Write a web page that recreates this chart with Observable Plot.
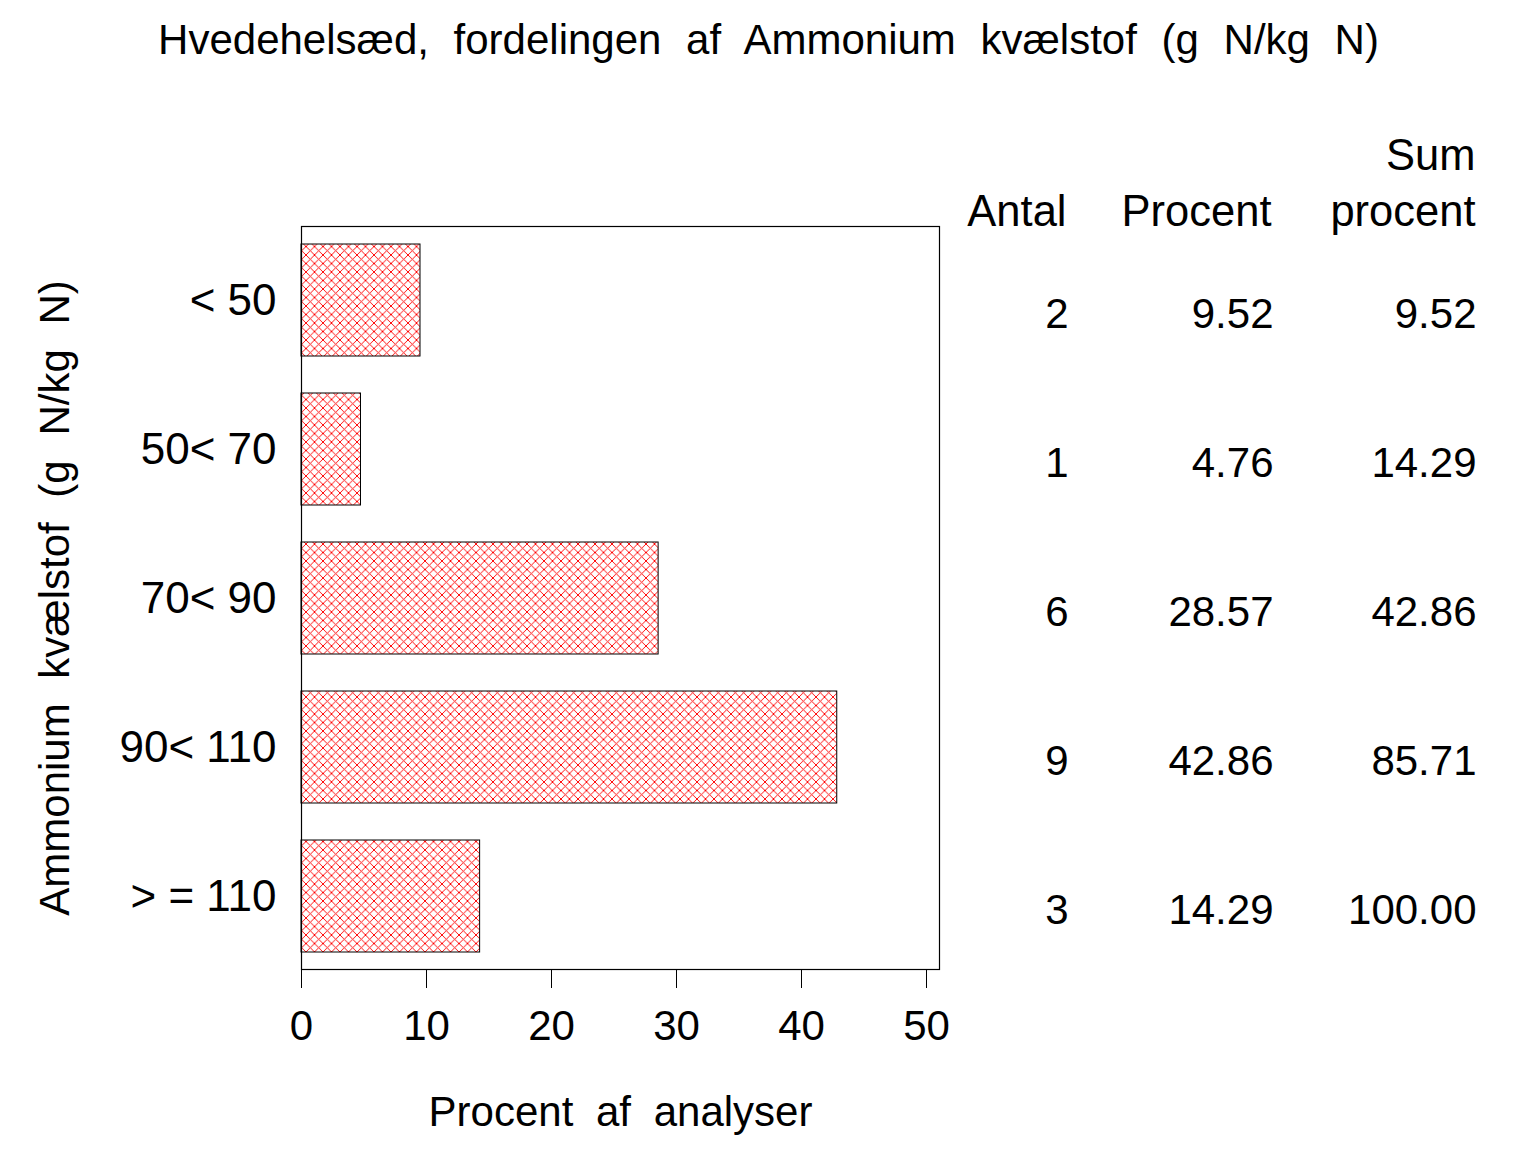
<!DOCTYPE html>
<html>
<head>
<meta charset="utf-8">
<script src="https://cdn.jsdelivr.net/npm/d3@7"></script>
<script src="https://cdn.jsdelivr.net/npm/@observablehq/plot@0.6"></script>
<style>
  html, body { margin: 0; padding: 0; background: #fff; overflow: hidden; }
</style>
</head>
<body>
<div id="chart"></div>
<script>
const categories = ["< 50", "50< 70", "70< 90", "90< 110", "> = 110"];
const antal = [2, 1, 6, 9, 3];
const procent = [9.52, 4.76, 28.57, 42.86, 14.29];
const sumProcent = [9.52, 14.29, 42.86, 85.71, 100.00];
const xTicks = [0, 10, 20, 30, 40, 50];
const titleText = "Hvedehelsæd, fordelingen af Ammonium kvælstof (g N/kg N)";
const yLabelText = "Ammonium kvælstof (g N/kg N)";
const xLabelText = "Procent af analyser";
const headers = ["Antal", "Procent", "Sum\nprocent"];

const rows = categories.map((c, i) => ({
  cat: c, antal: antal[i], procent: procent[i], sum: sumProcent[i]
}));

const font = "'Liberation Sans', Arial, Helvetica, sans-serif";

const chart = Plot.plot({
  width: 1536,
  height: 1152,
  marginLeft: 301,
  marginRight: 597,
  marginTop: 226,
  marginBottom: 183,
  style: { fontFamily: font, fontSize: "42px", color: "black", background: "white" },
  x: { domain: [0, 51.04] },
  y: { domain: categories, paddingInner: 0.25, paddingOuter: 0.118 },
  marks: [
    Plot.barX(rows, { x: "procent", y: "cat", fill: "url(#hatch)", stroke: "black", strokeWidth: 1 }),
    Plot.frame({ stroke: "black", strokeWidth: 1.2 }),
    Plot.axisX({ ticks: xTicks, tickSize: 19, tickPadding: 22, fontSize: 42, label: null, tickFormat: d => String(d) }),
    Plot.axisY({ tickSize: 0, tickPadding: 25, fontSize: 44, label: null }),
    // y axis label
    Plot.text([yLabelText], { text: d => d, frameAnchor: "left", rotate: -90, dx: -246, textAnchor: "middle", lineAnchor: "middle", fontSize: 42 }),
    // x axis label
    Plot.text([xLabelText], { text: d => d, frameAnchor: "bottom", dy: 143, textAnchor: "middle", lineAnchor: "middle", fontSize: 42 }),
    // title
    Plot.text([titleText], { text: d => d, frameAnchor: "top", dx: 148, dy: -186, textAnchor: "middle", lineAnchor: "middle", fontSize: 42 }),
    // table headers
    Plot.text([headers[0]], { text: d => d, frameAnchor: "top-right", dx: 127, dy: -1, lineAnchor: "bottom", textAnchor: "end", fontSize: 43.5 }),
    Plot.text([headers[1]], { text: d => d, frameAnchor: "top-right", dx: 332, dy: -1, lineAnchor: "bottom", textAnchor: "end", fontSize: 43.5 }),
    Plot.text([headers[2]], { text: d => d, frameAnchor: "top-right", dx: 536, dy: -1, lineAnchor: "bottom", textAnchor: "end", lineHeight: 1.27, fontSize: 43.5 }),
    // table values
    Plot.text(rows, { y: "cat", text: d => String(d.antal), frameAnchor: "right", dx: 129, dy: 14, textAnchor: "end", fontSize: 42 }),
    Plot.text(rows, { y: "cat", text: d => d.procent.toFixed(2), frameAnchor: "right", dx: 334, dy: 14, textAnchor: "end", fontSize: 42 }),
    Plot.text(rows, { y: "cat", text: d => d.sum.toFixed(2), frameAnchor: "right", dx: 537, dy: 14, textAnchor: "end", fontSize: 42 })
  ]
});

// wider word spacing on the titles, as in the reference
const spacing = new Map([[titleText, "13px"], [yLabelText, "13px"], [xLabelText, "11px"]]);
chart.querySelectorAll("text").forEach(t => {
  const s = spacing.get(t.textContent);
  if (s) t.style.wordSpacing = s;
});

// hatch pattern definition
const NS = "http://www.w3.org/2000/svg";
const defs = document.createElementNS(NS, "defs");
const pat = document.createElementNS(NS, "pattern");
pat.setAttribute("id", "hatch");
pat.setAttribute("patternUnits", "userSpaceOnUse");
pat.setAttribute("width", "8.5");
pat.setAttribute("height", "8.5");
const bg = document.createElementNS(NS, "rect");
bg.setAttribute("width", "8.5"); bg.setAttribute("height", "8.5"); bg.setAttribute("fill", "white");
pat.appendChild(bg);
const p = document.createElementNS(NS, "path");
p.setAttribute("d", "M-1,-1L9.5,9.5M-1,9.5L9.5,-1");
p.setAttribute("stroke", "#ff0000");
p.setAttribute("stroke-width", "1.2");
p.setAttribute("fill", "none");
p.setAttribute("shape-rendering", "crispEdges");
pat.appendChild(p);
defs.appendChild(pat);
chart.insertBefore(defs, chart.firstChild);

document.getElementById("chart").appendChild(chart);
</script>
</body>
</html>
